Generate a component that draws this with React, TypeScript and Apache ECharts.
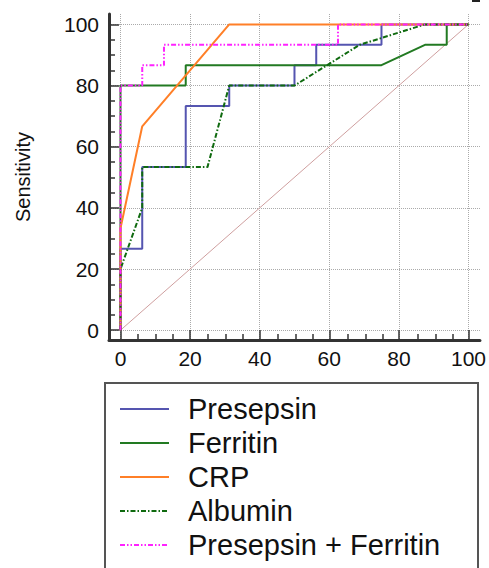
import React, { useEffect, useRef } from "react";
import * as echarts from "echarts";

const majorTicks = [0, 20, 40, 60, 80, 100];
const minorTicks = [5, 10, 15, 25, 30, 35, 45, 50, 55, 65, 70, 75, 85, 90, 95];

const seriesNames = ["Presepsin", "Ferritin", "CRP", "Albumin", "Presepsin + Ferritin"];

const presepsinX = [0, 0, 6.25, 6.25, 18.75, 18.75, 31.25, 31.25, 50, 50, 56.25, 56.25, 75, 75, 100];
const presepsinY = [0, 26.67, 26.67, 53.33, 53.33, 73.33, 73.33, 80, 80, 86.67, 86.67, 93.33, 93.33, 100, 100];

const ferritinX = [0, 0, 18.75, 18.75, 75, 87.5, 93.75, 93.75, 100];
const ferritinY = [0, 80, 80, 86.67, 86.67, 93.33, 93.33, 100, 100];

const crpX = [0, 0, 6.25, 31.25, 100];
const crpY = [0, 33.33, 66.67, 100, 100];

const albuminX = [0, 0, 6.25, 6.25, 25, 31.25, 50, 68.75, 87.5, 100];
const albuminY = [0, 20, 40, 53.33, 53.33, 80, 80, 93.33, 100, 100];

const comboX = [0, 0, 6.25, 6.25, 12.5, 12.5, 62.5, 62.5, 100];
const comboY = [0, 80, 80, 86.67, 86.67, 93.33, 93.33, 100, 100];

const refX = [0, 100];
const refY = [0, 100];

const FONT = "'Liberation Sans', Arial, sans-serif";

const pairs = (xs: number[], ys: number[]) => xs.map((x, i) => [x, ys[i]]);

export default function App() {
  const ref = useRef<HTMLDivElement>(null);
  useEffect(() => {
    if (!ref.current) return;
    const chart = echarts.init(ref.current, undefined, { renderer: "svg" });
    const gridPos = { left: 109, right: 7, top: 14, bottom: 228 };
    const xRange = { min: -3.3, max: 103.3 };
    const yRange = { min: -3.2, max: 103.4 };
    const lineSeries = (
      name: string,
      xs: number[],
      ys: number[],
      color: string,
      width: number,
      type: any,
      z: number
    ) => ({
      name,
      type: "line",
      xAxisIndex: 0,
      yAxisIndex: 0,
      data: pairs(xs, ys),
      symbol: "none",
      showSymbol: false,
      z,
      lineStyle: { color, width, type },
      itemStyle: { color },
    });
    chart.setOption({
      animation: false,
      backgroundColor: "#ffffff",
      grid: [
        { ...gridPos },
        { ...gridPos },
      ],
      xAxis: [
        {
          type: "value",
          gridIndex: 0,
          ...xRange,
          axisLine: { show: true, onZero: false, lineStyle: { color: "#333", width: 3 } },
          axisTick: {
            show: true,
            inside: true,
            length: 10,
            customValues: majorTicks,
            lineStyle: { color: "#333", width: 1.5 },
          },
          axisLabel: {
            customValues: majorTicks,
            fontSize: 21,
            color: "#111",
            fontFamily: FONT,
            margin: 8,
          },
          splitLine: { show: true, lineStyle: { type: "dotted", color: "#aaa", width: 1 } },
        },
        {
          type: "value",
          gridIndex: 1,
          ...xRange,
          axisLine: { show: false, onZero: false },
          axisTick: {
            show: true,
            inside: true,
            length: 6,
            customValues: minorTicks,
            lineStyle: { color: "#333", width: 1.5 },
          },
          axisLabel: { show: false },
          splitLine: { show: false },
        },
      ],
      yAxis: [
        {
          type: "value",
          gridIndex: 0,
          ...yRange,
          name: "Sensitivity",
          nameLocation: "middle",
          nameGap: 76,
          nameTextStyle: { fontSize: 20, color: "#111", fontFamily: FONT },
          axisLine: { show: true, onZero: false, lineStyle: { color: "#333", width: 3 } },
          axisTick: {
            show: true,
            inside: true,
            length: 10,
            customValues: majorTicks,
            lineStyle: { color: "#333", width: 1.5 },
          },
          axisLabel: {
            customValues: majorTicks,
            fontSize: 21,
            color: "#111",
            fontFamily: FONT,
            margin: 10,
          },
          splitLine: { show: true, lineStyle: { type: "dotted", color: "#aaa", width: 1 } },
        },
        {
          type: "value",
          gridIndex: 1,
          ...yRange,
          axisLine: { show: false, onZero: false },
          axisTick: {
            show: true,
            inside: true,
            length: 6,
            customValues: minorTicks,
            lineStyle: { color: "#333", width: 1.5 },
          },
          axisLabel: { show: false },
          splitLine: { show: false },
        },
      ],
      legend: {
        data: seriesNames,
        orient: "vertical",
        left: 119,
        top: 392,
        padding: 0,
        itemWidth: 49,
        itemHeight: 14,
        itemGap: 0,
        itemStyle: { opacity: 0, color: "rgba(0,0,0,0)", borderWidth: 0 },
        textStyle: {
          fontSize: 29,
          lineHeight: 34,
          color: "#111",
          fontFamily: FONT,
          padding: [0, 0, 0, 14],
        },
      },
      graphic: [
        {
          type: "rect",
          shape: { x: 105, y: 383, width: 373, height: 200 },
          style: { fill: "none", stroke: "#555", lineWidth: 2 },
          z: -1,
        },
        {
          type: "rect",
          shape: { x: 472, y: 0, width: 8, height: 2 },
          style: { fill: "#222" },
        },
      ],
      series: [
        {
          name: "ref",
          type: "line",
          data: pairs(refX, refY),
          symbol: "none",
          z: 1,
          lineStyle: { color: "#cf9f9f", width: 1 },
          silent: true,
        },
        lineSeries("Presepsin", presepsinX, presepsinY, "#5555b0", 2, "solid", 2),
        lineSeries("Ferritin", ferritinX, ferritinY, "#227a22", 2, "solid", 3),
        lineSeries("CRP", crpX, crpY, "#ff7f27", 2, "solid", 4),
        lineSeries("Albumin", albuminX, albuminY, "#0f6a0f", 2, [5, 2, 1.5, 2], 5),
        lineSeries("Presepsin + Ferritin", comboX, comboY, "#ff22ff", 2, [5, 2, 1.5, 2, 1.5, 2], 6),
      ],
    });
    return () => chart.dispose();
  }, []);
  return (
    <div
      ref={ref}
      style={{ position: "absolute", left: 0, top: 0, width: 489, height: 568 }}
    />
  );
}
